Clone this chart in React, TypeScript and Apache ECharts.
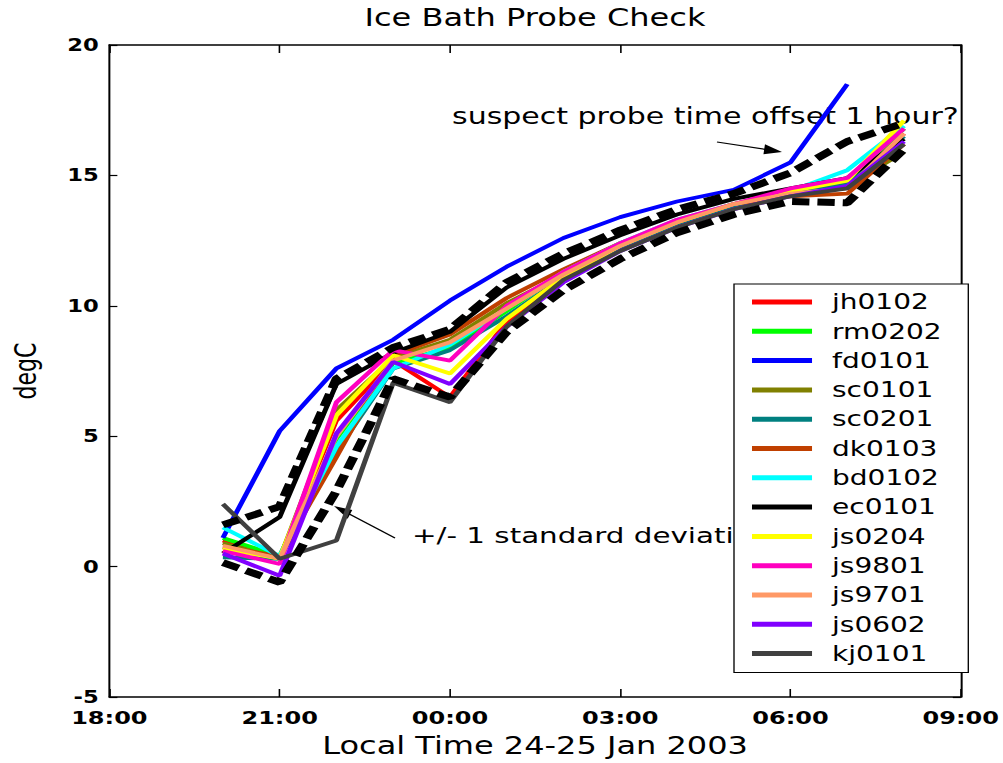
import React, { useEffect, useRef } from "react";
import * as echarts from "echarts";

// ---------- data ----------
const HOURS = [20, 21, 22, 23, 24, 25, 26, 27, 28, 29, 30, 31, 32]; // 20:00 (24 Jan) .. 08:00 (25 Jan)
const X_TICK_LABELS = ["18:00", "21:00", "00:00", "03:00", "06:00", "09:00"];

const jh0102 = [1.0, 0.3, 5.6, 7.9, 6.5, 9.4, 11.0, 12.2, 13.1, 13.8, 14.3, 14.6, 16.6];
const rm0202 = [1.1, 0.4, 4.9, 7.8, 8.4, 9.8, 11.3, 12.4, 13.2, 13.9, 14.4, 14.8, 16.8];
const fd0101 = [1.1, 5.2, 7.6, 8.7, 10.2, 11.5, 12.6, 13.4, 14.0, 14.45, 15.5, 18.5, null];
const sc0101 = [0.9, 0.3, 6.0, 8.0, 8.7, 10.1, 11.2, 12.3, 13.2, 13.8, 14.3, 14.6, 15.9];
const sc0201 = [0.35, 0.3, 4.4, 7.6, 8.3, 9.6, 11.1, 12.2, 13.1, 13.8, 14.3, 14.7, 16.5];
const dk0103 = [0.75, 0.4, 4.2, 8.1, 8.9, 10.3, 11.4, 12.4, 13.2, 13.9, 14.2, 14.3, 16.2];
const bd0102 = [1.5, 0.4, 4.6, 7.6, 8.5, 9.9, 11.3, 12.4, 13.3, 13.9, 14.4, 15.2, 16.9];
const ec0101 = [0.5, 1.9, 7.0, 8.2, 9.0, 10.7, 11.8, 12.7, 13.5, 14.1, 14.5, 14.9, 16.4];
const js0204 = [0.7, 0.3, 5.8, 8.1, 7.4, 9.5, 11.1, 12.3, 13.2, 13.9, 14.4, 14.8, 17.1];
const js9801 = [0.6, 0.1, 6.3, 8.3, 7.9, 10.0, 11.3, 12.4, 13.3, 13.9, 14.5, 14.9, 16.8];
const js9701 = [0.8, 0.3, 5.0, 7.9, 8.6, 9.9, 11.2, 12.3, 13.2, 13.9, 14.3, 14.5, 16.6];
const js0602 = [0.5, -0.35, 5.1, 7.85, 7.0, 9.2, 10.9, 12.1, 13.0, 13.7, 14.2, 14.6, 16.3];
const kj0101 = [2.4, 0.3, 1.0, 7.05, 6.3, 9.2, 11.0, 12.1, 13.0, 13.7, 14.2, 14.5, 16.2];

const MEAN_PLUS_SD = [1.6, 2.3, 7.2, 8.4, 9.1, 10.9, 12.0, 12.9, 13.7, 14.3, 15.1, 16.3, 17.0];
const MEAN_MINUS_SD = [0.15, -0.6, 2.9, 7.2, 6.5, 9.0, 10.6, 11.8, 12.8, 13.5, 14.0, 13.95, 16.0];

const PROBE_NAMES = [
  "jh0102", "rm0202", "fd0101", "sc0101", "sc0201", "dk0103", "bd0102",
  "ec0101", "js0204", "js9801", "js9701", "js0602", "kj0101",
];
const PROBE_VALUES = [
  jh0102, rm0202, fd0101, sc0101, sc0201, dk0103, bd0102,
  ec0101, js0204, js9801, js9701, js0602, kj0101,
];

// ---------- styles ----------
const PROBE_COLORS = [
  "#ff0000", "#00ff00", "#0000ff", "#808000", "#008080", "#c04000", "#00ffff",
  "#000000", "#ffff00", "#ff00bf", "#ff9966", "#8000ff", "#404040",
];

const W = 752; // drawing width, stretched horizontally to 1003 like the reference
const H = 763;
const S = 1003 / W;
const ox = (x: number) => x / S;
const FONT = "DejaVu Sans";

function arrow(tx: number, ty: number, hx: number, hy: number) {
  const dx = hx - tx;
  const dy = hy - ty;
  const L = Math.hypot(dx, dy);
  const ux = dx / L;
  const uy = dy / L;
  const len = 18;
  const w = 5;
  const bx = hx - ux * len;
  const by = hy - uy * len;
  const p1 = [bx - uy * w, by + ux * w];
  const p2 = [bx + uy * w, by - ux * w];
  return [
    {
      type: "line",
      z: 1,
      shape: { x1: ox(tx), y1: ty, x2: ox(bx + ux * 4), y2: by + uy * 4 },
      style: { stroke: "#000", lineWidth: 1.2 },
    },
    {
      type: "polygon",
      z: 1,
      shape: { points: [[ox(hx), hy], [ox(p1[0]), p1[1]], [ox(p2[0]), p2[1]]] },
      style: { fill: "#000" },
    },
  ];
}

export default function App() {
  const ref = useRef<HTMLDivElement>(null);

  useEffect(() => {
    if (!ref.current) return;
    const chart = echarts.init(ref.current, null, { renderer: "svg" });

    const probeSeries = PROBE_NAMES.map((name, k) => ({
      name,
      type: "line",
      symbol: "none",
      showSymbol: false,
      color: PROBE_COLORS[k],
      itemStyle: { color: PROBE_COLORS[k] },
      lineStyle: { color: PROBE_COLORS[k], width: 3.8 },
      data: HOURS.map((h, i) => [h, PROBE_VALUES[k][i]]),
      z: 2,
    }));

    const sdSeries = [
      { name: "mean + 1 sd", values: MEAN_PLUS_SD },
      { name: "mean - 1 sd", values: MEAN_MINUS_SD },
    ].map((s) => ({
      name: s.name,
      type: "line",
      symbol: "none",
      showSymbol: false,
      color: "#000",
      lineStyle: { color: "#000", width: 7, type: [13, 6] },
      data: HOURS.map((h, i) => [h, s.values[i]]),
      z: 3,
    }));

    const axisLine = { show: true, onZero: false, lineStyle: { color: "#000", width: 1.5 } };
    const tickStyle = { color: "#000", width: 1.2 };

    chart.setOption({
      animation: false,
      backgroundColor: "#fff",
      title: {
        text: "Ice Bath Probe Check",
        left: ox(535),
        top: 6,
        textAlign: "center",
        padding: 0,
        textStyle: { fontFamily: FONT, fontSize: 24, fontWeight: "normal", color: "#000" },
      },
      grid: { left: ox(108), right: W - ox(963), top: 45, bottom: H - 698 },
      legend: {
        data: PROBE_NAMES,
        orient: "vertical",
        left: ox(734),
        top: 284,
        icon: "rect",
        itemWidth: 45,
        itemHeight: 5,
        itemGap: 3.3,
        padding: [5, 20, 6, 13.5],
        backgroundColor: "#fff",
        borderColor: "#000",
        borderWidth: 1,
        borderRadius: 0,
        z: 10,
        selectedMode: false,
        textStyle: {
          fontFamily: FONT,
          fontSize: 21,
          color: "#000",
          lineHeight: 26,
          padding: [0, 0, 0, 10],
        },
      },
      xAxis: [
        {
          type: "value",
          position: "bottom",
          min: 18,
          max: 33,
          interval: 3,
          axisLine,
          axisTick: { show: true, inside: true, length: 8, lineStyle: tickStyle },
          splitLine: { show: false },
          axisLabel: {
            color: "#000",
            fontFamily: FONT,
            fontWeight: "bold",
            fontSize: 18,
            margin: 13,
            lineHeight: 16,
            formatter: (v: number) => X_TICK_LABELS[Math.round((v - 18) / 3)],
          },
          name: "Local Time 24-25 Jan 2003",
          nameLocation: "middle",
          nameGap: 37,
          nameTextStyle: { fontFamily: FONT, fontSize: 24, color: "#000" },
        },
        {
          type: "value",
          position: "top",
          min: 18,
          max: 33,
          interval: 3,
          axisLine,
          axisTick: { show: true, inside: true, length: 8, lineStyle: tickStyle },
          splitLine: { show: false },
          axisLabel: { show: false },
        },
      ],
      yAxis: [
        {
          type: "value",
          position: "left",
          min: -5,
          max: 20,
          interval: 5,
          axisLine,
          axisTick: { show: true, inside: true, length: 6, lineStyle: tickStyle },
          splitLine: { show: false },
          axisLabel: {
            color: "#000",
            fontFamily: FONT,
            fontWeight: "bold",
            fontSize: 17,
            margin: 8,
            lineHeight: 14,
          },
          name: "degC",
          nameLocation: "middle",
          nameGap: 52,
          nameRotate: 90,
          nameTextStyle: { fontFamily: FONT, fontSize: 22, color: "#000" },
        },
        {
          type: "value",
          position: "right",
          min: -5,
          max: 20,
          interval: 5,
          axisLine,
          axisTick: { show: true, inside: true, length: 6, lineStyle: tickStyle },
          splitLine: { show: false },
          axisLabel: { show: false },
        },
      ],
      graphic: [
        {
          type: "text",
          z: 1,
          x: ox(452),
          y: 116,
          style: {
            text: "suspect probe time offset 1 hour?",
            fontFamily: FONT,
            fontSize: 22.5,
            fill: "#000",
            textAlign: "left",
            textVerticalAlign: "middle",
          },
        },
        {
          type: "text",
          z: 1,
          x: ox(412),
          y: 535,
          style: {
            text: "+/- 1 standard deviation",
            fontFamily: FONT,
            fontSize: 22,
            fill: "#000",
            textAlign: "left",
            textVerticalAlign: "middle",
          },
        },
        ...arrow(717, 142, 782, 152),
        ...arrow(395, 538, 334, 506),
      ],
      series: [...probeSeries, ...sdSeries],
    });

    return () => chart.dispose();
  }, []);

  return (
    <div
      ref={ref}
      style={{
        position: "fixed",
        left: 0,
        top: 0,
        width: W,
        height: H,
        transform: `scaleX(${S})`,
        transformOrigin: "0 0",
        background: "#fff",
      }}
    />
  );
}
